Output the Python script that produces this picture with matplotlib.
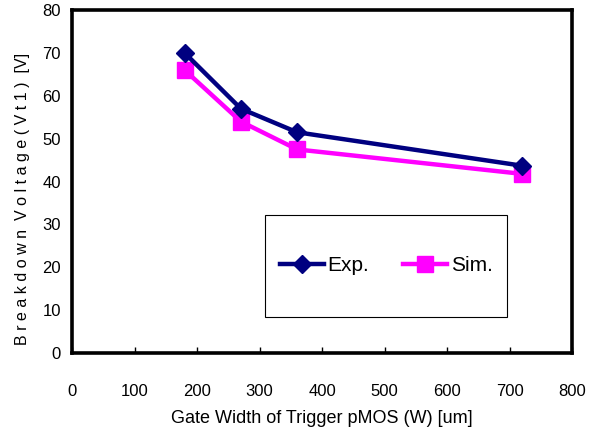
import matplotlib
matplotlib.use('Agg')
import matplotlib.pyplot as plt
from matplotlib.patches import Rectangle

plt.rcParams['font.family'] = ['Liberation Sans', 'DejaVu Sans']

# data
width_um = [180, 270, 360, 720]
exp_vt1 = [70, 57, 51.5, 43.7]
sim_vt1 = [66, 54, 47.5, 41.8]

fig = plt.figure(figsize=(5.96, 4.36), dpi=100)
ax = fig.add_axes([0.121, 0.190, 0.839, 0.787])

ax.plot(width_um, exp_vt1, color='#000080', lw=3.2, marker='D', ms=9,
        label='Exp.', zorder=3)
ax.plot(width_um, sim_vt1, color='#ff00ff', lw=3.2, marker='s', ms=11,
        label='Sim.', zorder=2)

ax.set_xlim(0, 800)
ax.set_ylim(0, 80)
ax.set_xticks(range(0, 801, 100))
ax.set_yticks(range(0, 81, 10))
ax.tick_params(axis='x', direction='in', length=4, width=1, pad=22, labelsize=12)
ax.tick_params(axis='y', direction='in', length=0, pad=8, labelsize=12)
for s in ax.spines.values():
    s.set_linewidth(2.6)

ax.set_xlabel('Gate Width of Trigger pMOS (W) [um]', fontsize=13, labelpad=8)
ax.set_ylabel('B r e a k d o w n  V o l t a g e ( V t 1 )  [V]', fontsize=11.5)
ax.yaxis.set_label_coords(-0.085, 0.45)

# legend box
box = Rectangle((0.445, 0.273), 0.406, 0.234, transform=fig.transFigure,
                facecolor='white', edgecolor='black', lw=0.8, zorder=4,
                clip_on=False)
ax.add_patch(box)
leg = ax.legend(ncol=2, loc='center', bbox_to_anchor=(0.648, 0.39),
                bbox_transform=fig.transFigure, frameon=False, fontsize=15,
                handlelength=2.1, handletextpad=0.2, columnspacing=1.6)
leg.set_zorder(5)

fig.savefig('out.png', dpi=100)
